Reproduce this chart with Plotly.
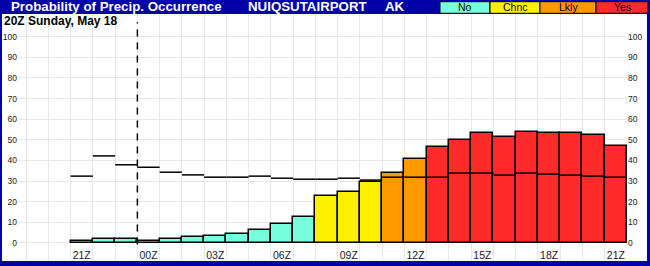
import plotly.graph_objects as go

# ---------------- data ----------------
hours = ["21Z", "22Z", "23Z", "00Z", "01Z", "02Z", "03Z", "04Z", "05Z", "06Z",
         "07Z", "08Z", "09Z", "10Z", "11Z", "12Z", "13Z", "14Z", "15Z", "16Z",
         "17Z", "18Z", "19Z", "20Z", "21Z"]
pop = [1, 2, 2, 1, 2, 3, 3.5, 4.2, 6.3, 9, 12.5, 22.6, 24.7, 29.6, 33.9, 40.7,
       46.5, 50, 53.3, 51.4, 53.8, 53.3, 53.3, 52.3, 47]
clim = [32.4, 42.2, 37.9, 36.7, 34.3, 33, 31.9, 31.9, 32.4, 31.4, 30.9, 30.9,
        31.4, 30.5, 31.9, 31.9, 31.9, 33.9, 33.9, 32.9, 33.9, 33.4, 32.9, 32.4, 31.9]
categories = ["No", "Chnc", "Lkly", "Yes"]
cat_colors = ["#77FFDD", "#FFF000", "#FF9900", "#FF2A2A"]
thresholds = [20, 31, 45]
yticks = list(range(0, 101, 10))
label_every = 3
day_break_label = "00Z"
title = "Probability of Precip. Occurrence"
station = "NUIQSUTAIRPORT"
state = "AK"
subtitle = "20Z Sunday, May 18"

# ---------------- layout geometry ----------------
W, H = 650, 266
L, R, T, B = 18, 23, 14, 2
PW, PH = W - L - R, H - T - B
FONT = "Liberation Sans, Arial, sans-serif"
BLUE = "#0000A8"


def px(xp):
    return (xp - L) / PW


def py(yp):
    return 1 - (yp - T) / PH


def cat_of(v):
    k = 0
    for t in thresholds:
        if v >= t:
            k += 1
    return k


xs = list(range(len(hours)))
bar_colors = [cat_colors[cat_of(v)] for v in pop]

seg_x, seg_y = [], []
for i, v in zip(xs, clim):
    seg_x += [i - 0.5, i + 0.5, None]
    seg_y += [v, v, None]

fig = go.Figure()
fig.add_trace(go.Bar(x=xs, y=pop, width=1, marker=dict(color=bar_colors,
                     line=dict(color="black", width=1.5)), hoverinfo="skip"))
fig.add_trace(go.Scatter(x=seg_x, y=seg_y, mode="lines", yaxis="y2",
                         line=dict(color="black", width=1.5), hoverinfo="skip"))

tickvals = xs[::label_every]
ticktext = hours[::label_every]
yrange = [-10.2, 111]

fig.update_layout(
    width=W, height=H, autosize=False,
    margin=dict(l=L, r=R, t=T, b=B, pad=0),
    paper_bgcolor=BLUE, plot_bgcolor="white",
    showlegend=False, bargap=0,
    font=dict(family=FONT, color="#222"),
    xaxis=dict(range=[-2.864, len(hours) - 0.5], tickmode="array",
               tickvals=tickvals, ticktext=ticktext,
               ticklabelposition="inside", ticks="", showgrid=False,
               zeroline=False, showline=False,
               tickfont=dict(size=10.5, color="#222"),
               minor=dict(tickmode="linear", tick0=-0.5, dtick=1,
                          showgrid=True, gridcolor="#e8e8e8", gridwidth=1,
                          ticks="")),
    yaxis=dict(range=yrange, tickmode="array", tickvals=yticks, ticks="",
               showgrid=True, gridcolor="#e8e8e8", gridwidth=1,
               zeroline=False, showline=False,
               tickfont=dict(size=8.5, color="#222")),
    yaxis2=dict(range=yrange, overlaying="y", side="right", tickmode="array",
                tickvals=yticks, ticks="", showgrid=False, zeroline=False,
                showline=False, tickfont=dict(size=8.5, color="#222")),
)

shapes = [
    # white panel
    dict(type="rect", xref="paper", yref="paper", x0=px(2), x1=px(647),
         y0=py(261), y1=1, fillcolor="white", line=dict(width=0), layer="below"),
    # bottom frame strip
    dict(type="rect", xref="paper", yref="paper", x0=px(0), x1=px(650),
         y0=py(266), y1=py(261), fillcolor=BLUE, line=dict(width=0), layer="above"),
    # day break dashed line
    dict(type="line", xref="x", yref="y",
         x0=hours.index(day_break_label) - 0.5, x1=hours.index(day_break_label) - 0.5,
         y0=-0.8, y1=107, line=dict(color="black", width=1.5, dash="7px,6px")),
]

# legend boxes in header
box_edges = [440, 490, 540, 596, 648]
annotations = []
for k, (name, col) in enumerate(zip(categories, cat_colors)):
    shapes.append(dict(type="rect", xref="paper", yref="paper",
                       x0=px(box_edges[k]), x1=px(box_edges[k + 1]),
                       y0=py(13.3), y1=py(1.7), fillcolor=col,
                       line=dict(color="black", width=1)))
    annotations.append(dict(xref="paper", yref="paper",
                            x=px((box_edges[k] + box_edges[k + 1]) / 2), y=py(7.5),
                            text=name, showarrow=False, xanchor="center",
                            yanchor="middle",
                            font=dict(size=10.5, color="black", family=FONT)))

annotations += [
    dict(xref="paper", yref="paper", x=px(9), y=py(7), text=title,
         showarrow=False, xanchor="left", yanchor="middle",
         font=dict(size=13.3, color="white", family=FONT, weight="bold")),
    dict(xref="paper", yref="paper", x=px(246), y=py(7), text=station,
         showarrow=False, xanchor="left", yanchor="middle",
         font=dict(size=13.3, color="white", family=FONT, weight="bold")),
    dict(xref="paper", yref="paper", x=px(383), y=py(7), text=state,
         showarrow=False, xanchor="left", yanchor="middle",
         font=dict(size=13.3, color="white", family=FONT, weight="bold")),
    dict(xref="paper", yref="paper", x=px(2), y=py(21), text=subtitle,
         showarrow=False, xanchor="left", yanchor="middle",
         font=dict(size=12, color="black", family=FONT, weight="bold")),
]

fig.update_layout(shapes=shapes, annotations=annotations)
fig.write_html("out.html")
